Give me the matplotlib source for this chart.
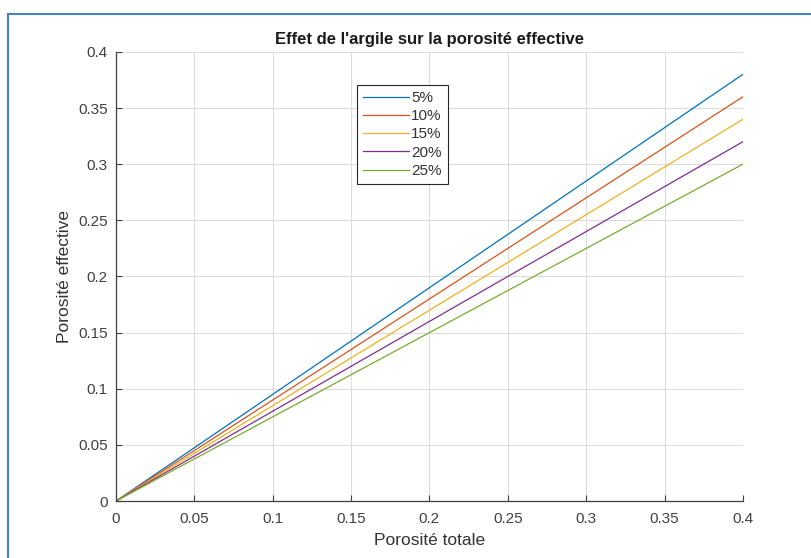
import matplotlib.pyplot as plt
from matplotlib.patches import Rectangle

plt.rcParams['font.family'] = ['Liberation Sans', 'DejaVu Sans']

# porosité totale (extrémités des droites) et porosité effective
porosite_totale = [0.0, 0.4]
labels = ['5%', '10%', '15%', '20%', '25%']
porosite_eff = [
    [0.0, 0.38],
    [0.0, 0.36],
    [0.0, 0.34],
    [0.0, 0.32],
    [0.0, 0.30],
]
couleurs = ['#0072BD', '#D95319', '#EDB120', '#7E2F8E', '#77AC30']
xticks = [0, 0.05, 0.1, 0.15, 0.2, 0.25, 0.3, 0.35, 0.4]
yticks = [0, 0.05, 0.1, 0.15, 0.2, 0.25, 0.3, 0.35, 0.4]

fig = plt.figure(figsize=(8.11, 5.58), dpi=100)
ax = fig.add_axes([0.143, 0.102, 0.773, 0.805])

for y, lab, c in zip(porosite_eff, labels, couleurs):
    ax.plot(porosite_totale, y, lw=0.9, color=c, label=lab)

ax.set_xlim(0, 0.4)
ax.set_ylim(0, 0.4)
ax.set_xticks(xticks)
ax.set_yticks(yticks)
ax.set_xticklabels([f'{t:g}' for t in xticks])
ax.set_yticklabels([f'{t:g}' for t in yticks])
ax.grid(True, color='#dcdcdc', lw=0.8)
ax.set_axisbelow(True)
for s in ['top', 'right']:
    ax.spines[s].set_visible(False)
for s in ['left', 'bottom']:
    ax.spines[s].set_color('#404040')
    ax.spines[s].set_linewidth(0.9)
ax.tick_params(direction='in', length=4, width=0.8, colors='#404040',
               labelsize=11, labelcolor='#404040')
ax.tick_params(axis='x', pad=8)
ax.tick_params(axis='y', pad=6)

ax.set_title("Effet de l'argile sur la porosité effective", fontsize=12,
             fontweight='bold', color='#1a1a1a', pad=6)
ax.set_xlabel('Porosité totale', fontsize=12.5, color='#333333', labelpad=5)
ax.set_ylabel('Porosité effective', fontsize=12.5, color='#333333', labelpad=4)

leg = ax.legend(loc='upper left', bbox_to_anchor=(0.385, 0.926), fontsize=11,
                frameon=True, fancybox=False, framealpha=1, borderpad=0.38,
                handlelength=3.0, handletextpad=0.15, labelspacing=0.28,
                borderaxespad=0)
leg.get_frame().set_edgecolor('#262626')
leg.get_frame().set_linewidth(0.8)
for t in leg.get_texts():
    t.set_color('#333333')

# cadre bleu de la capture
fig.patches.append(Rectangle((0.010, -0.02), 1.02, 0.995, transform=fig.transFigure,
                             fill=False, edgecolor='#4a7fd0', lw=1.5))

fig.savefig('out.png', dpi=100)
